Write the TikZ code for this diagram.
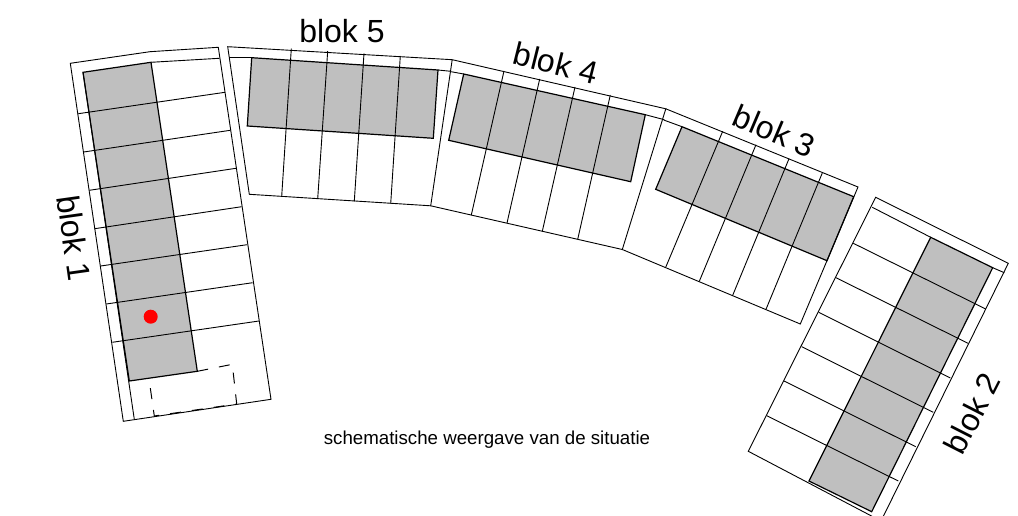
\documentclass[tikz,border=0pt]{standalone}
\usepackage{fontspec}
\setmainfont{Liberation Sans}
\tikzstyle{grond} = [draw=black, line width=0.9pt]
\tikzstyle{woning} = [draw=black, fill=black!25, line width=1.2pt]
\tikzstyle{bloklabel} = [font=\fontsize{32}{32}\selectfont, inner sep=0pt]
\tikzstyle{bijschrift} = [font=\fontsize{18.7}{18.7}\selectfont, inner sep=0pt]
\tikzstyle{schets} = [draw=black, line width=1pt, dash pattern=on 11pt off 11pt]

\begin{document}
\begin{tikzpicture}[x=1pt,y=-1pt]
	\useasboundingbox (0,0) rectangle (1018,516);

	% Woningen
	\draw [woning] (83,72.3) -- (151,62.3) -- (197.3,371.3) -- (129.3,381) -- cycle;
	\draw [woning] (930.7,237.3) -- (992.7,267.7) -- (871.7,511.7) -- (809,481) -- cycle;
	\draw [woning] (682,126.7) -- (853.7,196.7) -- (827,260.7) -- (655.7,189.3) -- cycle;
	\draw [woning] (463.7,74) -- (645.3,114.7) -- (630.7,181.7) -- (448.7,140.3) -- cycle;
	\draw [woning] (251.7,57.7) -- (438,70) -- (433.3,138.3) -- (247.3,126) -- cycle;

	% Blok 1
	\draw [grond] (70.3,63.3) -- (150,51.7) -- (218.3,47.3) -- (271,399.3) -- (123.3,421.3) -- cycle;
	\draw [grond] (151,62.3) -- (219.3,58.3);
	\draw [grond] (83,72.3) -- (134.3,419.3);
	\draw [grond] (78.3,113.7) -- (225,92.3);
	\draw [grond] (83.7,152) -- (230.3,130.3);
	\draw [grond] (89.3,190.3) -- (236,168.3);
	\draw [grond] (94.7,228.7) -- (241.7,206.7);
	\draw [grond] (100.7,266) -- (247,244.7);
	\draw [grond] (106.3,304) -- (252.7,282.7);
	\draw [grond] (112.3,342.3) -- (259,321);
	\draw [schets] (197.3,371.3) -- (232.3,364.3) -- (236.7,404) -- (154.3,416) -- (149,379);
	\fill [red] (150.7,316.7) circle (7);

	% Blok 5
	\draw [grond] (227.7,46.7) -- (452.2,59.7) -- (430.7,205.8) -- (249.3,194.3) -- cycle;
	\draw [grond] (229,57.7) -- (251.7,57.7);
	\draw [grond] (438,70) -- (450.7,71.3);
	\draw [grond] (291.3,48.7) -- (281.7,196.3);
	\draw [grond] (327.7,51) -- (317.7,198.7);
	\draw [grond] (364,53.3) -- (354.3,201.3);
	\draw [grond] (400.3,56) -- (390.7,203.7);

	% Blok 4
	\draw [grond] (452.2,59.7) -- (665.8,108.8) -- (622.3,249.5) -- (430.7,205.8);
	\draw [grond] (451,71.7) -- (463.7,74);
	\draw [grond] (645.3,114.7) -- (664.3,119.7);
	\draw [grond] (504,71) -- (471.3,215);
	\draw [grond] (539.7,79) -- (507,223);
	\draw [grond] (575,87) -- (542.3,231.3);
	\draw [grond] (610.3,95) -- (577.7,239.3);

	% Blok 3
	\draw [grond] (665.8,108.8) -- (858,187) -- (800.3,324) -- (622.3,249.5);
	\draw [grond] (663.7,120) -- (682,126.7);
	\draw [grond] (722.7,131.3) -- (665.7,267.3);
	\draw [grond] (756,144.7) -- (699.3,281.3);
	\draw [grond] (789,158.7) -- (732.7,295.3);
	\draw [grond] (822.3,173) -- (766,309.3);

	% Blok 2
	\draw [grond] (875.7,197.3) -- (1008.3,263.3) -- (881,521) -- (748.3,451.3) -- cycle;
	\draw [grond] (872.3,207.3) -- (930.7,237.3);
	\draw [grond] (992.7,267.7) -- (1004.3,272.7);
	\draw [grond] (853.3,243.3) -- (985.7,309);
	\draw [grond] (836,277.7) -- (968,343.3);
	\draw [grond] (818.7,312.3) -- (950.3,378);
	\draw [grond] (801.7,346.7) -- (933.3,412.3);
	\draw [grond] (784,381) -- (915.7,446.7);
	\draw [grond] (766.7,415.7) -- (898.3,481);

	% Teksten
	\node (blok1) [bloklabel, rotate=-82] at (74,238) {blok 1};
	\node (blok2) [bloklabel, rotate=63] at (972,413) {blok 2};
	\node (blok3) [bloklabel, rotate=-23] at (774.5,131) {blok 3};
	\node (blok4) [bloklabel, rotate=-14] at (556,63) {blok 4};
	\node (blok5) [bloklabel] at (342,31) {blok 5};
	\node (schema) [bijschrift] at (487,440) {schematische weergave van de situatie};
\end{tikzpicture}
\end{document}
